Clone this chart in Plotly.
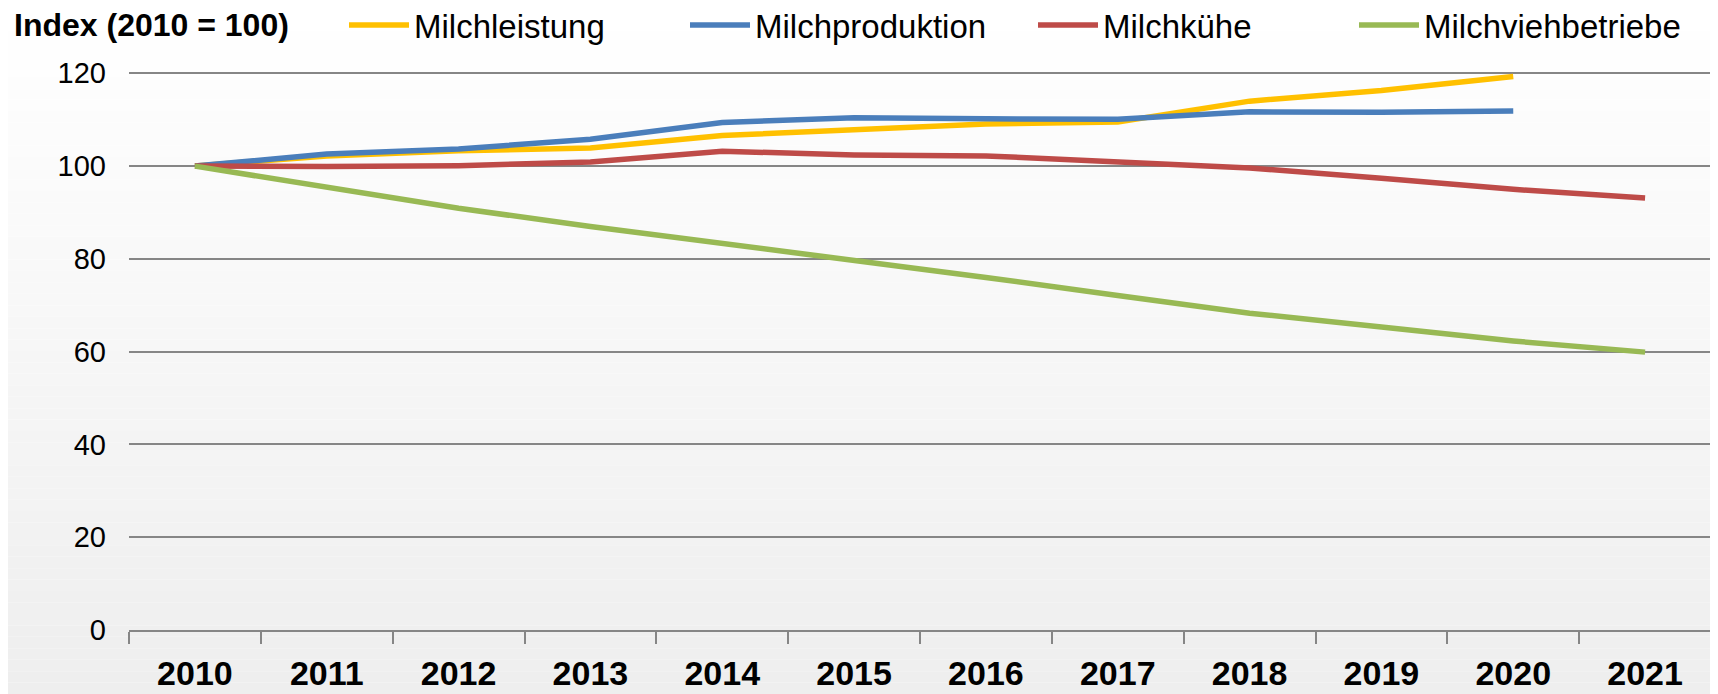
import plotly.graph_objects as go

# Index 2010 = 100
years = ['2010', '2011', '2012', '2013', '2014', '2015', '2016', '2017', '2018', '2019', '2020', '2021']
milchleistung = [100, 102.2, 103.3, 103.9, 106.6, 107.8, 109.1, 109.5, 114.0, 116.3, 119.3, None]
milchproduktion = [100, 102.6, 103.7, 105.8, 109.4, 110.4, 110.2, 110.1, 111.7, 111.6, 111.9, None]
milchkuehe = [100, 99.9, 100.1, 100.9, 103.2, 102.4, 102.2, 100.9, 99.6, 97.4, 95.0, 93.1]
milchviehbetriebe = [100, 95.5, 90.9, 87.0, 83.4, 79.8, 76.0, 72.1, 68.3, 65.3, 62.3, 59.9]
y_ticks = [0, 20, 40, 60, 80, 100, 120]

# the page body has an 8px margin, so the figure is 8px smaller than the window
W, H = 1710, 686
L, R, T, B = 121, 7, 63, 64
FONT = 'Liberation Sans, Arial, sans-serif'

series = [
    ('Milchleistung', milchleistung, '#FFC000', 'legend', 336),
    ('Milchproduktion', milchproduktion, '#4A7EBB', 'legend2', 677),
    ('Milchkühe', milchkuehe, '#BE4B48', 'legend3', 1025),
    ('Milchviehbetriebe', milchviehbetriebe, '#98B954', 'legend4', 1346),
]

fig = go.Figure()
for name, vals, col, lg, _ in series:
    fig.add_trace(go.Scatter(x=years, y=vals, name=name, mode='lines',
                             line=dict(color=col, width=5.5), legend=lg))

# one legend per series so each entry sits where it does in the original
legends = {}
for name, vals, col, lg, px in series:
    legends[lg] = dict(xref='container', yref='container', x=px / W, y=1 - 17 / H,
                       xanchor='left', yanchor='middle', orientation='h',
                       bgcolor='rgba(0,0,0,0)', itemwidth=60,
                       font=dict(family=FONT, size=33, color='black'))

# pixel -> paper helpers for things placed in the margins
pw, ph = W - L - R, H - T - B
def px_x(p):
    return (p - L) / pw
def px_y(p):
    return (H - B - p) / ph

# soft white-to-grey background like the spreadsheet chart
shapes = []
n = 60
top, bot = px_y(0), px_y(H)
for i in range(n):
    t = i / (n - 1)
    c = int(round(255 - 17 * t))
    y1 = top - (top - bot) * i / n
    y0 = top - (top - bot) * (i + 1) / n
    shapes.append(dict(type='rect', xref='paper', yref='paper', x0=px_x(0), x1=px_x(W),
                       y0=y0, y1=y1, fillcolor=f'rgb({c},{c},{c})', line=dict(width=0),
                       layer='below'))

fig.update_layout(
    width=W, height=H,
    margin=dict(l=L, r=R, t=T, b=B, autoexpand=False),
    paper_bgcolor='white', plot_bgcolor='rgba(0,0,0,0)',
    font=dict(family=FONT, color='black'),
    shapes=shapes,
    showlegend=True,
    annotations=[dict(text='<b>Index (2010 = 100)</b>', xref='paper', yref='paper',
                      x=px_x(4), y=px_y(17), xanchor='left', yanchor='middle',
                      showarrow=False, font=dict(family=FONT, size=32, color='black'))],
    **legends,
)
fig.update_xaxes(type='category', range=[-0.5, 11.5], tickson='boundaries',
                 ticks='outside', ticklen=12, tickwidth=2, tickcolor='#868686',
                 showline=True, linecolor='#868686', linewidth=2, showgrid=False,
                 ticklabelstandoff=12,
                 tickfont=dict(family=FONT, size=34, color='black', weight='bold'))
fig.update_yaxes(range=[0, 120.5], tickvals=y_ticks, showgrid=True, gridcolor='#868686',
                 gridwidth=2, zeroline=False, showline=False, ticks='',
                 ticklabelstandoff=22, tickfont=dict(family=FONT, size=29, color='black'))

fig.write_html('out.html')
